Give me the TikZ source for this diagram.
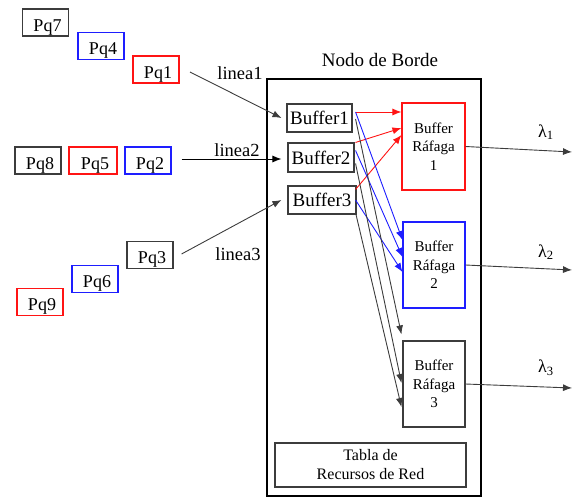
\documentclass[tikz,border=0pt]{standalone}
\usepackage{fontspec}
\setmainfont{Liberation Serif}
\usetikzlibrary{arrows.meta,calc}
\definecolor{bred}{RGB}{255,20,20}
\definecolor{bblue}{RGB}{30,30,255}
\definecolor{bgray}{RGB}{60,60,60}
\begin{document}
\begin{tikzpicture}[x=1pt,y=-1pt,
  pq/.style={draw, line width=1.1pt, minimum width=46pt, minimum height=27pt, inner sep=0pt,
    font=\fontsize{18}{20}\selectfont, text depth=0pt, text height=17pt},
  bf/.style={draw=bgray, line width=1.1pt, minimum height=28pt, inner sep=0pt,
    font=\fontsize{19}{21}\selectfont},
  raf/.style={draw, line width=1.1pt, minimum width=62pt, minimum height=86pt, inner sep=0pt,
    align=center, font=\fontsize{15}{18.5}\selectfont},
  lbl/.style={font=\fontsize{18.5}{20}\selectfont, inner sep=0pt},
  arr/.style={line width=0.9pt, -{Latex[length=9pt,width=7pt]}},
  lam/.style={font=\fontsize{18}{20}\selectfont, inner sep=0pt}
]
\useasboundingbox (0,0) rectangle (573,498);

% packets
\node[pq, draw=bgray] (pq7) at (45.5,22.5) {\hspace*{4pt}Pq7};
\node[pq, draw=bblue] (pq4) at (101,46) {\hspace*{4pt}Pq4};
\node[pq, draw=bred]  (pq1) at (156,69.5) {\hspace*{4pt}Pq1};
\node[pq, draw=bgray] (pq8) at (38,160.5) {\hspace*{4pt}Pq8};
\node[pq, draw=bred, minimum width=48pt] (pq5) at (93,160.5) {\hspace*{4pt}Pq5};
\node[pq, draw=bblue] (pq2) at (148,160.5) {\hspace*{4pt}Pq2};
\node[pq, draw=bgray] (pq3) at (150,255) {\hspace*{4pt}Pq3};
\node[pq, draw=bblue] (pq6) at (95,279) {\hspace*{4pt}Pq6};
\node[pq, draw=bred]  (pq9) at (40,302) {\hspace*{4pt}Pq9};

% edge node
\node[draw, line width=2pt, minimum width=214pt, minimum height=417pt] (nodo) at (374,287.5) {};
\node[font=\fontsize{19}{21}\selectfont, inner sep=0pt] (title) at (380,60) {Nodo de Borde};

% buffers
\node[bf, minimum width=65pt] (b1) at (319.5,118) {Buffer1};
\node[bf, minimum width=66pt, minimum height=29pt] (b2) at (321,157.5) {Buffer2};
\node[bf, minimum width=68pt] (b3) at (322,200) {Buffer3};

% burst buffers
\node[raf, draw=bred, minimum width=63pt, minimum height=87pt] (r1) at (433.5,146.5) {Buffer\\Ráfaga\\1};
\node[raf, draw=bblue] (r2) at (434,265) {Buffer\\Ráfaga\\2};
\node[raf, draw=bgray] (r3) at (434,384) {Buffer\\Ráfaga\\3};

% table
\node[draw=bgray, line width=1.1pt, minimum width=191pt, minimum height=44pt, inner sep=0pt,
  align=center, font=\fontsize{16}{19}\selectfont] (tabla) at (370.5,465) {Tabla de\\Recursos de Red};

% input lines
\coordinate (l1s) at (190,72);
\draw[arr, bgray] (l1s) -- ($(b1.west)+(-5,0)$);
\node[lbl] (ln1) at (240,73) {linea1};
\draw[arr, black] ($(pq2.east)+(10,-1.5)$) -- ($(b2.west)+(-6,1.5)$);
\node[lbl] (ln2) at (237,150) {linea2};
\draw[arr, bgray] ($(pq3.east)+(8,-1)$) -- ($(b3.west)+(-6,0)$);
\node[lbl] (ln3) at (238,254) {linea3};

% red connections
\draw[arr, bred] ($(b1.east)+(3,-6)$) -- ($(r1.west)+(0,-34.5)$);
\draw[arr, bred] ($(b2.north east)+(1,0)$) -- ($(r1.west)+(0,-18.5)$);
\draw[arr, bred] ($(b3.north east)+(-1,4)$) -- ($(r1.west)+(0,-11.5)$);

% blue connections
\draw[arr, bblue] ($(b1.east)+(3,-6)$) -- ($(r2.west)+(0,-25)$);
\draw[arr, bblue] ($(b2.east)+(1,-7)$) -- ($(r2.west)+(0,-8)$);
\draw[arr, bblue] ($(b3.east)+(-1,0)$) -- ($(r2.west)+(0,7)$);

% black connections
\draw[arr, bgray] ($(b1.east)+(3,1)$) -- ($(r3.north west)+(-1,-6)$);
\draw[arr, bgray] ($(b2.east)+(1,6)$) -- ($(r3.west)+(-1,-1)$);
\draw[arr, bgray] ($(b3.south east)+(-1,-2)$) -- ($(r3.west)+(-1,23)$);

% outputs
\coordinate (o1) at (572,152);
\coordinate (o2) at (572,270);
\coordinate (o3) at (572,388);
\draw[arr, bgray] (r1.east) -- (o1);
\draw[arr, bgray] (r2.east) -- (o2);
\draw[arr, bgray] (r3.east) -- (o3);
\node[lam] (lam1) at (546,132) {λ\textsubscript{1}};
\node[lam] (lam2) at (546,252) {λ\textsubscript{2}};
\node[lam] (lam3) at (546,368) {λ\textsubscript{3}};
\end{tikzpicture}
\end{document}
